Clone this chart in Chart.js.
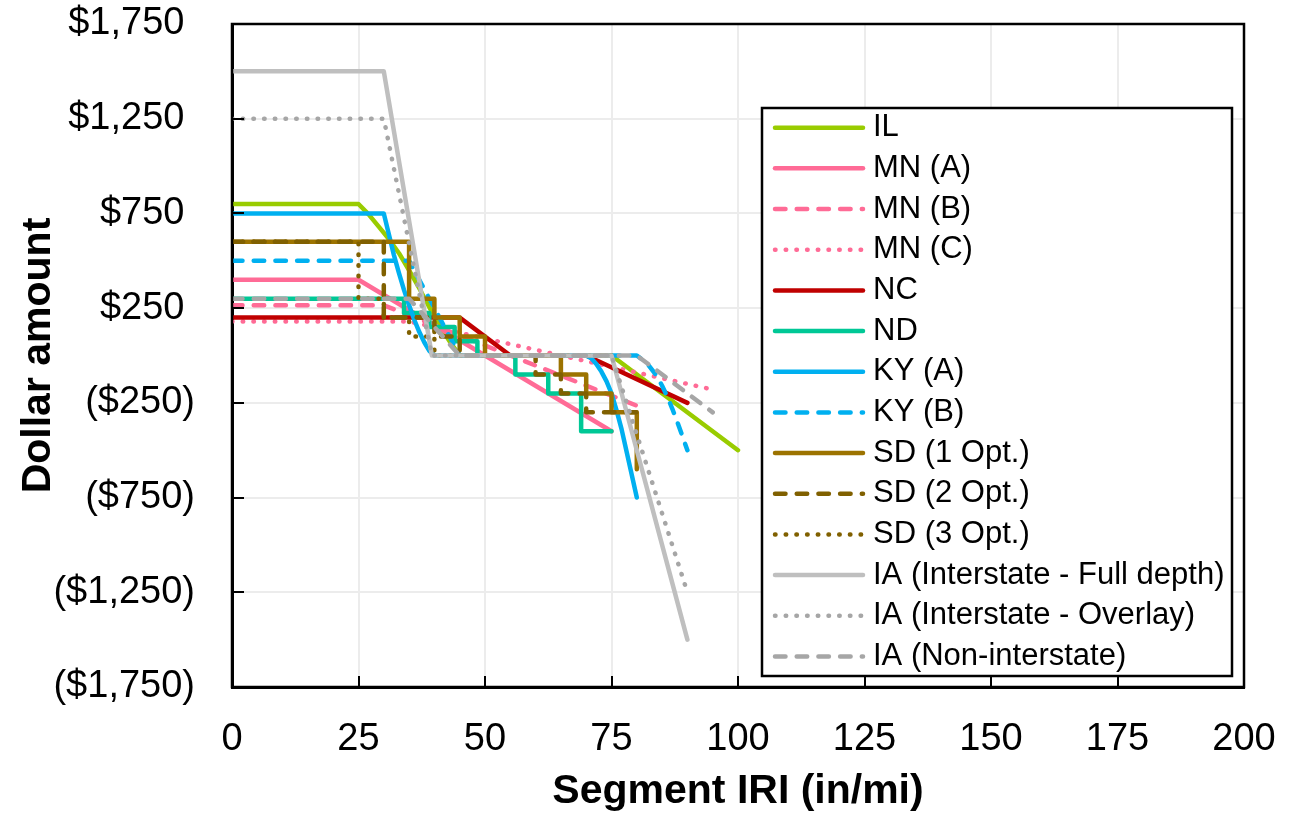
<!DOCTYPE html>
<html>
<head>
<meta charset="utf-8">
<title>Dollar amount by Segment IRI</title>
<script src="https://cdn.jsdelivr.net/npm/chart.js@4.4.1/dist/chart.umd.min.js"></script>
<style>
  html, body { margin: 0; padding: 0; background: #fff; }
  #wrap { width: 1298px; height: 815px; }
</style>
</head>
<body>
<div id="wrap"><canvas id="chart" width="1298" height="815"></canvas></div>
<script>
// Series values, [IRI, dollars]
const ilData = [[0, 800], [25, 800], [27, 745], [29, 680], [31, 615], [33, 540], [35, 450], [37, 355], [39, 255], [41, 160], [43, 75], [45, 0], [75, 0], [100, -500]];
const mnAData = [[0, 400], [25, 400], [75, -400]];
const mnBData = [[0, 265], [30, 265], [80, -265]];
const mnCData = [[0, 180], [35, 180], [95, -180]];
const ncData = [[0, 200], [45, 200], [55, 0], [70, 0], [90, -250]];
const ndData = [[0, 300], [34, 300], [34, 225], [39, 225], [39, 150], [44, 150], [44, 75], [48.5, 75], [48.5, 0], [56, 0], [56, -100], [62.5, -100], [62.5, -200], [69, -200], [69, -400], [75, -400]];
const kyAData = [[0, 750], [30, 750], [31, 640], [32, 530], [33, 435], [34, 345], [35, 265], [36, 190], [37, 125], [38, 70], [39, 25], [40, 0], [70, 0], [71, -15], [72, -45], [73, -85], [74, -135], [75, -200], [76, -290], [77, -390], [78, -510], [79, -630], [80, -750]];
const kyBData = [[0, 500], [35, 500], [45, 0], [80, 0], [82, -40], [84, -110], [85, -160], [86, -215], [87, -280], [88, -350], [89, -425], [90, -500]];
const sd1Data = [[0, 600], [35, 600], [35, 300], [40, 300], [40, 200], [45, 200], [45, 100], [50, 100], [50, 0], [65, 0], [65, -100], [70, -100], [70, -200], [75, -200], [75, -300], [80, -300], [80, -600]];
const sd2Data = [[0, 600], [30, 600], [30, 200], [40, 200], [40, 100], [45, 100], [45, 0], [60, 0], [60, -100], [65, -100], [65, -200], [70, -200], [70, -300], [80, -300]];
const sd3Data = [[0, 600], [25, 600], [25, 300], [30, 300], [30, 200], [35, 200], [35, 100], [40, 100], [40, 0], [75, 0]];
const iaFullData = [[0, 1500], [30, 1500], [39.5, 0], [75, 0], [90, -1500]];
const iaOverlayData = [[0, 1250], [30, 1250], [39.5, 0], [75, 0], [90, -1250]];
const iaNonData = [[0, 300], [35, 300], [45, 0], [80, 0], [95, -300]];

const seriesNames = ['IL', 'MN (A)', 'MN (B)', 'MN (C)', 'NC', 'ND', 'KY (A)', 'KY (B)',
  'SD (1 Opt.)', 'SD (2 Opt.)', 'SD (3 Opt.)',
  'IA (Interstate - Full depth)', 'IA (Interstate - Overlay)', 'IA (Non-interstate)'];
const seriesData = [ilData, mnAData, mnBData, mnCData, ncData, ndData, kyAData, kyBData,
  sd1Data, sd2Data, sd3Data, iaFullData, iaOverlayData, iaNonData];

// Tick values
const xTickValues = [0, 25, 50, 75, 100, 125, 150, 175, 200];
const yTickValues = [-1750, -1250, -750, -250, 250, 750, 1250, 1750];

// Styles
const seriesColors = ['#99cc00', '#ff6b96', '#ff6b96', '#ff6b96', '#c00000', '#00c896', '#00b0f0', '#00b0f0',
  '#9c7300', '#806000', '#806000', '#bfbfbf', '#a6a6a6', '#a6a6a6'];
const seriesLines = ['solid', 'solid', 'dash', 'dot', 'solid', 'solid', 'solid', 'dash',
  'solid', 'dash', 'dot', 'solid', 'dot', 'dash'];
const dashPatterns = { solid: [], dash: [10.5, 11.2], dot: [0.5, 10.2] };
const LINE_W = 4.5;

const FONT = "'Liberation Sans', Arial, sans-serif";
Chart.defaults.font.family = FONT;
Chart.defaults.color = '#000';

function money(v) {
  const s = '$' + Math.abs(v).toLocaleString('en-US');
  return v < 0 ? '(' + s + ')' : s + ' ';
}

// Legend box inside the plot, drawn over the lines
const legendBox = {
  id: 'legendBox',
  afterDatasetsDraw(chart) {
    const ctx = chart.ctx;
    const left = 762, top = 108, right = 1232, bottom = 676;
    ctx.save();
    ctx.fillStyle = '#fff';
    ctx.fillRect(left, top, right - left, bottom - top);
    ctx.strokeStyle = '#000';
    ctx.lineWidth = 2.5;
    ctx.strokeRect(left, top, right - left, bottom - top);

    ctx.font = '31px ' + FONT;
    ctx.textBaseline = 'middle';
    ctx.textAlign = 'left';
    seriesNames.forEach((name, i) => {
      const yy = top + 19.7 + i * 40.67;
      ctx.beginPath();
      ctx.strokeStyle = seriesColors[i];
      ctx.lineWidth = LINE_W;
      ctx.lineCap = 'round';
      ctx.setLineDash(dashPatterns[seriesLines[i]]);
      ctx.moveTo(775, yy);
      ctx.lineTo(863, yy);
      ctx.stroke();
      ctx.setLineDash([]);
      ctx.fillStyle = '#000';
      ctx.fillText(name, 873, yy);
    });
    ctx.restore();
  }
};

// Inside tick marks and the frame round the plot
const plotFrame = {
  id: 'plotFrame',
  afterDraw(chart) {
    const { ctx, chartArea: a, scales: { x, y } } = chart;
    ctx.save();
    ctx.strokeStyle = '#000';
    ctx.lineWidth = 2;
    ctx.beginPath();
    xTickValues.forEach(v => {
      const px = Math.round(x.getPixelForValue(v));
      ctx.moveTo(px, a.bottom);
      ctx.lineTo(px, a.bottom - 11);
    });
    yTickValues.forEach(v => {
      const py = Math.round(y.getPixelForValue(v));
      ctx.moveTo(a.left, py);
      ctx.lineTo(a.left + 12, py);
    });
    ctx.stroke();
    ctx.lineWidth = 2.5;
    ctx.strokeRect(a.left, a.top, a.right - a.left, a.bottom - a.top);
    ctx.restore();
  }
};

const datasets = seriesData.map((pts, i) => ({
  label: seriesNames[i],
  data: pts.map(p => ({ x: p[0], y: p[1] })),
  showLine: true,
  borderColor: seriesColors[i],
  backgroundColor: seriesColors[i],
  borderWidth: LINE_W,
  borderDash: dashPatterns[seriesLines[i]],
  borderCapStyle: 'round',
  borderJoinStyle: 'round',
  pointRadius: 0,
  tension: 0,
  fill: false,
  order: -i
}));

new Chart(document.getElementById('chart'), {
  type: 'scatter',
  data: { datasets },
  options: {
    responsive: false,
    animation: false,
    layout: { padding: { top: 24, right: 54, bottom: 0, left: 0 } },
    plugins: {
      legend: { display: false },
      tooltip: { enabled: false }
    },
    scales: {
      x: {
        type: 'linear',
        min: 0,
        max: 200,
        afterBuildTicks: scale => { scale.ticks = xTickValues.map(v => ({ value: v })); },
        afterFit: scale => { scale.height = 128; },
        ticks: { font: { size: 38 }, padding: 0, maxRotation: 0, autoSkip: false, color: '#000' },
        grid: { color: '#ececec', lineWidth: 2, drawTicks: true, tickLength: 30, tickColor: 'rgba(0,0,0,0)' },
        border: { color: '#000', width: 3 },
        title: {
          display: true,
          text: 'Segment IRI (in/mi)',
          font: { size: 41, weight: 'bold', lineHeight: 1 },
          padding: { top: 0, bottom: 3 },
          color: '#000'
        }
      },
      y: {
        type: 'linear',
        min: -1750,
        max: 1750,
        afterBuildTicks: scale => { scale.ticks = yTickValues.map(v => ({ value: v })); },
        afterFit: scale => { scale.width = 232; },
        ticks: { font: { size: 38 }, padding: 0, callback: v => money(v), color: '#000' },
        grid: { color: '#ececec', lineWidth: 2, drawTicks: true, tickLength: 37, tickColor: 'rgba(0,0,0,0)' },
        border: { color: '#000', width: 3 },
        title: {
          display: true,
          text: 'Dollar amount',
          font: { size: 41, weight: 'bold', lineHeight: 1 },
          padding: { top: 18, bottom: 0 },
          color: '#000'
        }
      }
    }
  },
  plugins: [legendBox, plotFrame]
});
</script>
</body>
</html>
